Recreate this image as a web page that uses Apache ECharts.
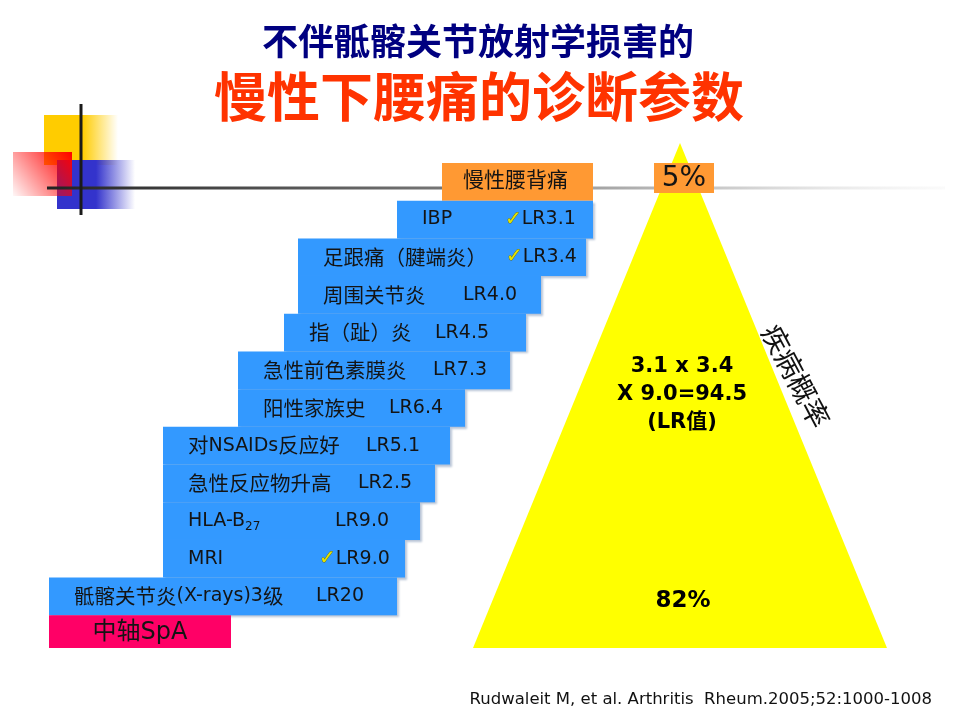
<!DOCTYPE html>
<html>
<head>
<meta charset="utf-8">
<script src="https://cdn.jsdelivr.net/npm/echarts@6/dist/echarts.min.js"></script>
<style>
  html, body { margin: 0; padding: 0; background: #fff; }
  #chart { width: 960px; height: 720px; }
</style>
</head>
<body>
<div id="chart"></div>
<script>
// staircase of diagnostic parameters, top to bottom
const steps = ['慢性腰背痛', 'IBP', '足跟痛（腱端炎）', '周围关节炎', '指（趾）炎', '急性前色素膜炎',
  '阳性家族史', '对NSAIDs反应好', '急性反应物升高', 'HLA-B27', 'MRI', '骶髂关节炎(X-rays)3级', '中轴SpA'];
const lrValues = ['', 'LR3.1', 'LR3.4', 'LR4.0', 'LR4.5', 'LR7.3', 'LR6.4', 'LR5.1', 'LR2.5', 'LR9.0', 'LR9.0', 'LR20', ''];
const checked = [false, true, true, false, false, false, false, false, false, false, true, false, false];
const stepKind = ['start', 'param', 'param', 'param', 'param', 'param', 'param', 'param', 'param', 'param', 'param', 'param', 'result'];
// left / right end of each step on the horizontal scale
const stepStart = [442, 397, 298, 298, 284, 238, 238, 163, 163, 163, 163, 49, 49];
const stepEnd = [593, 593, 586, 541, 526, 510, 465, 450, 435, 420, 405, 397, 231];

// probability triangle
const triangleX = [-1, 0, 1];
const triangleY = [0, 1, 0];
const probTop = '5%';
const probBottom = '82%';
const lrProduct = ['3.1 x 3.4', 'X 9.0=94.5', '(LR值)'];

const titleLines = ['不伴骶髂关节放射学损害的', '慢性下腰痛的诊断参数'];
const sideLabel = '疾病概率';
const citation = 'Rudwaleit M, et al. Arthritis  Rheum.2005;52:1000-1008';

// where the LR column sits in each row (layout only)
const lrLabelX = [0, 505, 506, 463, 435, 433, 389, 366, 358, 335, 319, 316, 0];

const FONT = '"DejaVu Sans", "Noto Sans CJK SC", sans-serif';
const CJK = '"Noto Sans CJK SC", sans-serif';
const BLUE = '#3399ff';
const ORANGE = '#ff9933';
const PINK = '#ff0066';
const INK = '#141414';

// split a label into CJK / latin runs so each gets its own size
function nameText(name) {
  const m = name.match(/^(.*B)(\d+)$/);
  if (m) return '{l|' + m[1] + '}{s|' + m[2] + '}';
  return name.match(/[\u3000-\u9fff\uff00-\uffef]+|[^\u3000-\u9fff\uff00-\uffef]+/g)
    .map(run => (/[\u3000-\u9fff\uff00-\uffef]/.test(run) ? '{c|' : '{l|') + run + '}').join('');
}

const rich = {
  c: { fontSize: 20.5, fontFamily: CJK, fill: INK, color: INK },
  l: { fontSize: 19, fontFamily: FONT, fill: INK, color: INK },
  s: { fontSize: 12, fontFamily: FONT, fill: INK, color: INK, verticalAlign: 'bottom', padding: [12, 0, 0, 0] },
  ck: { fontSize: 20, fontWeight: 'bold', fontFamily: FONT, fill: '#e4e400', color: '#e4e400',
    stroke: '#6b6b10', lineWidth: 0.8 },
  lr: { fontSize: 19, fontFamily: FONT, fill: INK, color: INK }
};

function renderStep(params, api) {
  const i = api.value(2);
  const p0 = api.coord([api.value(0), i]);
  const p1 = api.coord([api.value(1), i]);
  const h = api.size([0, 1])[1];
  const kind = stepKind[i];
  const y0 = p0[1] - h / 2;
  const hh = kind === 'result' ? h - 5 : h;
  const fill = kind === 'start' ? ORANGE : kind === 'result' ? PINK : BLUE;
  const children = [{
    type: 'rect',
    shape: { x: p0[0], y: y0, width: p1[0] - p0[0], height: hh },
    style: {
      fill: fill,
      shadowColor: kind === 'param' ? 'rgba(20,60,120,0.3)' : 'rgba(0,0,0,0)',
      shadowBlur: 2, shadowOffsetX: 2, shadowOffsetY: 2
    }
  }];
  if (kind === 'param') {
    children.push({
      type: 'text', x: p0[0] + 25, y: p0[1],
      style: { text: nameText(steps[i]), rich: rich, fontSize: 19, fontFamily: FONT, fill: INK,
        align: 'left', textAlign: 'left', verticalAlign: 'middle', textVerticalAlign: 'middle' }
    });
    const lx = api.coord([lrLabelX[i], i])[0];
    children.push({
      type: 'text', x: lx, y: p0[1],
      style: { text: (checked[i] ? '{ck|✓}' : '') + '{lr|' + lrValues[i] + '}', rich: rich, fontSize: 19, fontFamily: FONT, fill: INK,
        align: 'left', textAlign: 'left', verticalAlign: 'middle', textVerticalAlign: 'middle' }
    });
  } else {
    const big = kind === 'result';
    children.push({
      type: 'text', x: (p0[0] + p1[0]) / 2 - (big ? 0 : 2), y: y0 + hh / 2 + (big ? 1 : 0),
      style: { text: steps[i], fontSize: big ? 24 : 21, fontFamily: FONT, fill: INK,
        align: 'center', textAlign: 'center', verticalAlign: 'middle', textVerticalAlign: 'middle' }
    });
  }
  return { type: 'group', children: children };
}

const chart = echarts.init(document.getElementById('chart'));

const grey = new echarts.graphic.LinearGradient(0, 0, 1, 0, [
  { offset: 0, color: '#222' }, { offset: 0.45, color: '#777' }, { offset: 0.8, color: '#d8d8d8' }, { offset: 1, color: 'rgba(240,240,240,0.3)' }
]);

const option = {
  animation: false,
  backgroundColor: '#fff',
  grid: [
    { left: 0, right: 0, top: 163, bottom: 67 },
    { left: 473, right: 73, top: 143, bottom: 72 }
  ],
  xAxis: [
    { type: 'value', gridIndex: 0, min: 0, max: 960, show: false },
    { type: 'value', gridIndex: 1, min: -1, max: 1, show: false }
  ],
  yAxis: [
    { type: 'category', gridIndex: 0, data: steps, inverse: true, show: false },
    { type: 'value', gridIndex: 1, min: 0, max: 1, show: false }
  ],
  series: [
    {
      type: 'line', xAxisIndex: 1, yAxisIndex: 1,
      data: triangleX.map((x, i) => [x, triangleY[i]]),
      symbol: 'none', silent: true, z: 3,
      lineStyle: { width: 0 },
      areaStyle: { color: '#ffff00', opacity: 1, origin: 'start' }
    },
    {
      type: 'custom', xAxisIndex: 0, yAxisIndex: 0,
      coordinateSystem: 'cartesian2d', clip: false, z: 4,
      data: steps.map((s, i) => [stepStart[i], stepEnd[i], i]),
      renderItem: renderStep
    }
  ],
  graphic: [
    // corner decoration
    { type: 'rect', z: 1, shape: { x: 44, y: 115, width: 74, height: 50 },
      style: { fill: new echarts.graphic.LinearGradient(0, 0, 1, 0, [
        { offset: 0, color: '#ffcc00' }, { offset: 0.52, color: '#ffcc00' }, { offset: 1, color: 'rgba(255,204,0,0)' }]) } },
    { type: 'rect', z: 1, shape: { x: 57, y: 160, width: 78, height: 49 },
      style: { fill: new echarts.graphic.LinearGradient(0, 0, 1, 0, [
        { offset: 0, color: '#3333cc' }, { offset: 0.5, color: '#3333cc' }, { offset: 1, color: 'rgba(51,51,204,0)' }]) } },
    { type: 'rect', z: 1, shape: { x: 13, y: 152, width: 59, height: 44 },
      style: { fill: new echarts.graphic.LinearGradient(1, 0, 0, 1, [
        { offset: 0, color: '#ff0000' }, { offset: 1, color: 'rgba(255,0,0,0.03)' }]) } },
    { type: 'line', z: 2, shape: { x1: 47, y1: 188, x2: 945, y2: 188 }, style: { stroke: grey, lineWidth: 3 } },
    { type: 'line', z: 2, shape: { x1: 81, y1: 104, x2: 81, y2: 215 }, style: { stroke: '#1a1a1a', lineWidth: 3 } },

    // titles
    { type: 'text', z: 5, x: 478, y: 41,
      style: { text: titleLines[0], fontSize: 36, fontWeight: 'bold', fontFamily: CJK, fill: '#000080',
        align: 'center', textAlign: 'center', verticalAlign: 'middle', textVerticalAlign: 'middle' } },
    { type: 'text', z: 5, x: 479, y: 97,
      style: { text: titleLines[1], fontSize: 53, fontWeight: 'bold', fontFamily: CJK, fill: '#ff3300',
        align: 'center', textAlign: 'center', verticalAlign: 'middle', textVerticalAlign: 'middle' } },

    // triangle annotations
    { type: 'rect', z: 10, shape: { x: 654, y: 163, width: 60, height: 30 }, style: { fill: ORANGE } },
    { type: 'text', z: 11, x: 684, y: 179,
      style: { text: probTop, fontSize: 28, fontFamily: FONT, fill: INK,
        align: 'center', textAlign: 'center', verticalAlign: 'middle', textVerticalAlign: 'middle' } },
    { type: 'text', z: 11, x: 682, y: 395,
      style: { text: lrProduct.join('\n'), fontSize: 21, lineHeight: 28, fontWeight: 'bold', fontFamily: FONT, fill: '#000',
        align: 'center', textAlign: 'center', verticalAlign: 'middle', textVerticalAlign: 'middle' } },
    { type: 'text', z: 11, x: 683, y: 601,
      style: { text: probBottom, fontSize: 23, fontWeight: 'bold', fontFamily: FONT, fill: '#000',
        align: 'center', textAlign: 'center', verticalAlign: 'middle', textVerticalAlign: 'middle' } },
    { type: 'text', z: 11, x: 796, y: 376, rotation: -62 * Math.PI / 180,
      style: { text: sideLabel, fontSize: 28, fontFamily: CJK, fill: '#111',
        align: 'center', textAlign: 'center', verticalAlign: 'middle', textVerticalAlign: 'middle' } },

    // source
    { type: 'text', z: 5, x: 932, y: 700,
      style: { text: citation, fontSize: 16.5, fontFamily: FONT, fill: '#111',
        align: 'right', textAlign: 'right', verticalAlign: 'middle', textVerticalAlign: 'middle' } }
  ]
};

chart.setOption(option);
</script>
</body>
</html>
